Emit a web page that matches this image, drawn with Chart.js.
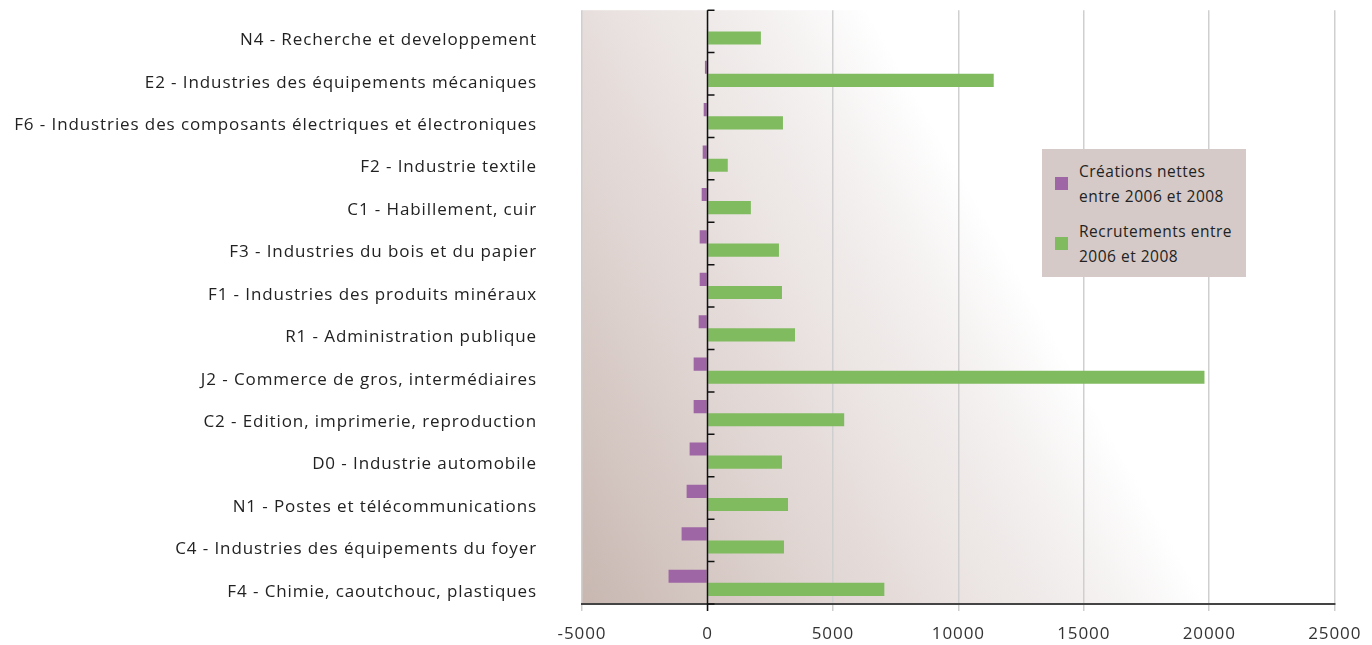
<!DOCTYPE html>
<html lang="fr">
<head>
<meta charset="utf-8">
<script src="https://cdn.jsdelivr.net/npm/chart.js@4.4.1/dist/chart.umd.min.js"></script>
<style>
  html, body { margin: 0; padding: 0; background: #fff; }
  #wrap { position: relative; width: 1372px; height: 645px; }
  #legend {
    position: absolute; left: 1042px; top: 149px; width: 204px; height: 128px;
    background: #d5cac7; font-family: "Open Sans", sans-serif; font-size: 15.5px;
    letter-spacing: 0.5px; color: #222; line-height: 25px; box-sizing: border-box;
    padding: 10px 0 0 37px;
  }
  #legend .item { position: relative; margin-bottom: 10px; white-space: nowrap; }
  #legend .box { position: absolute; left: -24px; top: 18px; width: 13px; height: 13px; }
</style>
</head>
<body>
<div id="wrap">
  <canvas id="chart" width="1372" height="645"></canvas>
  <div id="legend"></div>
</div>
<script>
const categories = [
  'N4 - Recherche et developpement',
  'E2 - Industries des équipements mécaniques',
  'F6 - Industries des composants électriques et électroniques',
  'F2 - Industrie textile',
  'C1 - Habillement, cuir',
  'F3 - Industries du bois et du papier',
  'F1 - Industries des produits minéraux',
  'R1 - Administration publique',
  'J2 - Commerce de gros, intermédiaires',
  'C2 - Edition, imprimerie, reproduction',
  'D0 - Industrie automobile',
  'N1 - Postes et télécommunications',
  'C4 - Industries des équipements du foyer',
  'F4 - Chimie, caoutchouc, plastiques'
];
const creationsNettes = [30, -100, -150, -190, -230, -310, -310, -350, -550, -550, -710, -830, -1030, -1550];
const recrutements = [2130, 11410, 3010, 810, 1730, 2850, 2970, 3490, 19810, 5450, 2970, 3210, 3050, 7050];
const seriesNames = [['Créations nettes', 'entre 2006 et 2008'], ['Recrutements entre', '2006 et 2008']];
const seriesColors = ['#9e66a4', '#80bb5f'];
const xTicks = [-5000, 0, 5000, 10000, 15000, 20000, 25000];

// fond dégradé de la zone de tracé
const backgroundPlugin = {
  id: 'plotBackground',
  beforeDraw(chart) {
    const { ctx, chartArea: a } = chart;
    ctx.letterSpacing = '0.9px';
    const ux = 594 / 684.4, uy = -340 / 684.4, len = 560;
    const g = ctx.createLinearGradient(a.left, a.bottom, a.left + ux * len, a.bottom + uy * len);
    g.addColorStop(0, '#c8b7b1');
    g.addColorStop(0.3, '#dbcfcb');
    g.addColorStop(0.55, '#e8e0de');
    g.addColorStop(0.8, '#f3f0ef');
    g.addColorStop(0.97, '#ffffff');
    ctx.save();
    ctx.fillStyle = g;
    ctx.fillRect(a.left, a.top, a.right - a.left, a.bottom - a.top);
    ctx.restore();
  }
};

// axe vertical sur zéro avec ses graduations
const zeroAxisPlugin = {
  id: 'zeroAxis',
  afterDatasetsDraw(chart) {
    const { ctx, chartArea: a, scales } = chart;
    const x0 = Math.round(scales.x.getPixelForValue(0)) + 0.5;
    ctx.save();
    ctx.strokeStyle = '#111';
    ctx.lineWidth = 1.5;
    ctx.beginPath();
    ctx.moveTo(x0, a.top);
    ctx.lineTo(x0, a.bottom + 7);
    const n = categories.length;
    for (let i = 0; i <= n; i++) {
      const y = a.top + (a.bottom - a.top) * i / n;
      ctx.moveTo(x0, y);
      ctx.lineTo(x0 + 7, y);
    }
    ctx.stroke();
    ctx.restore();
  }
};

new Chart(document.getElementById('chart'), {
  type: 'bar',
  data: {
    labels: categories,
    datasets: [
      { label: seriesNames[0].join(' '), data: creationsNettes, backgroundColor: seriesColors[0] },
      { label: seriesNames[1].join(' '), data: recrutements, backgroundColor: seriesColors[1] }
    ]
  },
  options: {
    indexAxis: 'y',
    responsive: false,
    animation: false,
    categoryPercentage: 0.62,
    barPercentage: 1.0,
    layout: { padding: { top: 0, right: 37, left: 0, bottom: 0 } },
    plugins: { legend: { display: false }, tooltip: { enabled: false } },
    scales: {
      x: {
        min: xTicks[0],
        max: xTicks[xTicks.length - 1],
        afterBuildTicks: s => { s.ticks = xTicks.map(v => ({ value: v })); },
        afterFit: s => { s.height = 41; },
        ticks: { font: { family: 'Open Sans', size: 17 }, color: '#333', padding: 13, callback: v => String(v) },
        grid: { color: '#cfcfcf', lineWidth: 1.5, tickLength: 7 },
        border: { display: true, color: '#444', width: 2 }
      },
      y: {
        afterFit: s => { s.width = 582; },
        ticks: { font: { family: 'Open Sans', size: 17 }, color: '#222', padding: 0, labelOffset: 9 },
        grid: { display: true, drawOnChartArea: false, color: 'rgba(0,0,0,0)', tickLength: 45 },
        border: { display: false }
      }
    }
  },
  plugins: [backgroundPlugin, zeroAxisPlugin]
});

const legend = document.getElementById('legend');
seriesNames.forEach((lines, i) => {
  const item = document.createElement('div');
  item.className = 'item';
  item.innerHTML = '<span class="box" style="background:' + seriesColors[i] + '"></span>' + lines.join('<br>');
  legend.appendChild(item);
});
</script>
</body>
</html>
